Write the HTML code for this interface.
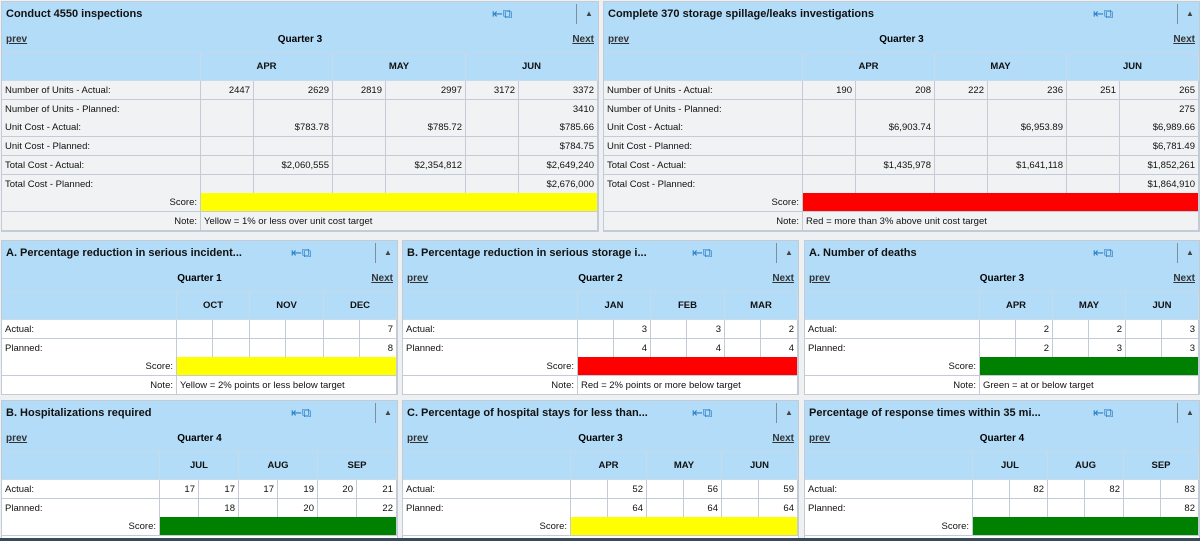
<!DOCTYPE html>
<html><head><meta charset="utf-8">
<style>
html,body{margin:0;padding:0;width:1200px;height:541px;overflow:hidden;background:#eef0f2;font-family:"Liberation Sans",sans-serif;}
.panel{position:absolute;background:#fff;border:1px solid #c3ccd6;box-sizing:border-box;overflow:hidden;}
.bar{position:absolute;left:0;right:0;top:0;height:24px;background:#b3dcf9;border-bottom:1px solid #9fc6e2;}
.title{position:absolute;left:4px;top:6px;font-size:11px;font-weight:bold;color:#111;white-space:nowrap;}
.icons{position:absolute;top:4px;font-size:13px;color:#2a7cc7;}
.sep{position:absolute;top:2px;width:1px;height:20px;background:#7d8e9c;}
.caret{position:absolute;top:7px;font-size:8px;color:#444;}
.nav{position:absolute;left:0;right:0;top:24px;height:26px;background:#b3dcf9;border-bottom:1px solid #c7d8e6;font-size:10px;font-weight:bold;}
.nav a{position:absolute;top:8px;color:#333;text-decoration:underline;}
.q{position:absolute;top:8px;left:0;right:0;text-align:center;}
.cell{position:absolute;box-sizing:border-box;border-right:1px solid #c3ccd6;border-bottom:1px solid #c3ccd6;font-size:9.5px;color:#111;padding:0 3px;white-space:nowrap;overflow:hidden;}
.mh{background:#b3dcf9;font-weight:bold;text-align:center;border-color:#c7dbea;}
.bottomline{position:absolute;left:0;top:538px;width:1200px;height:3px;background:#3a4a5a;}
</style></head>
<body>
<div id="root"></div>
<div class="bottomline"></div>
<script>
const panelTitles=["Conduct 4550 inspections","Complete 370 storage spillage/leaks investigations","A. Percentage reduction in serious incident...","B. Percentage reduction in serious storage i...","A. Number of deaths","B. Hospitalizations required","C. Percentage of hospital stays for less than...","Percentage of response times within 35 mi..."];
const quarters=["Quarter 3","Quarter 3","Quarter 1","Quarter 2","Quarter 3","Quarter 4","Quarter 3","Quarter 4"];
const hasPrev=[true,true,false,true,true,true,true,true];
const hasNext=[true,true,true,true,true,false,true,false];
const monthSets=[["APR","MAY","JUN"],["APR","MAY","JUN"],["OCT","NOV","DEC"],["JAN","FEB","MAR"],["APR","MAY","JUN"],["JUL","AUG","SEP"],["APR","MAY","JUN"],["JUL","AUG","SEP"]];
const topLabels=["Number of Units - Actual:","Number of Units - Planned:","Unit Cost - Actual:","Unit Cost - Planned:","Total Cost - Actual:","Total Cost - Planned:"];
const smallLabels=["Actual:","Planned:"];
const values0=[["2447","2629","2819","2997","3172","3372"],["","","","","","3410"],["","$783.78","","$785.72","","$785.66"],["","","","","","$784.75"],["","$2,060,555","","$2,354,812","","$2,649,240"],["","","","","","$2,676,000"]];
const values1=[["190","208","222","236","251","265"],["","","","","","275"],["","$6,903.74","","$6,953.89","","$6,989.66"],["","","","","","$6,781.49"],["","$1,435,978","","$1,641,118","","$1,852,261"],["","","","","","$1,864,910"]];
const values2=[["","","","","","7"],["","","","","","8"]];
const values3=[["","3","","3","","2"],["","4","","4","","4"]];
const values4=[["","2","","2","","3"],["","2","","3","","3"]];
const values5=[["17","17","17","19","20","21"],["","18","","20","","22"]];
const values6=[["","52","","56","","59"],["","64","","64","","64"]];
const values7=[["","82","","82","","83"],["","","","","","82"]];
const scores=["#ffff00","#ff0000","#ffff00","#ff0000","#008000","#008000","#ffff00","#008000"];
const notes=["Yellow = 1% or less over unit cost target","Red = more than 3% above unit cost target","Yellow = 2% points or less below target","Red = 2% points or more below target","Green = at or below target","","",""];
const allValues=[values0,values1,values2,values3,values4,values5,values6,values7];

const geo=[[1,1,598,231,199,0.4,"#f0f2f4"],[603,1,597,231,199,0.4,"#f0f2f4"],
[1,240,397,155,175,0.49,"#fff"],[402,240,397,155,175,0.49,"#fff"],[804,240,396,155,175,0.49,"#fff"],
[1,400,397,140,158,0.49,"#fff"],[402,400,397,140,168,0.49,"#fff"],[804,400,396,140,168,0.49,"#fff"]];

const root=document.getElementById('root');
function cell(p,x,y,w,h,txt,cls,align,bg){
  const c=document.createElement('div');
  c.className='cell '+(cls||'');
  c.style.left=x+'px';c.style.top=y+'px';c.style.width=w+'px';c.style.height=h+'px';
  c.style.lineHeight=h+'px';
  if(align)c.style.textAlign=align;
  if(bg)c.style.background=bg;
  c.textContent=txt;
  p.appendChild(c);
  return c;
}
for(let i=0;i<8;i++){
  const [x,y,w,h,L,r,rowBg]=geo[i];
  const p=document.createElement('div');
  p.className='panel';
  p.style.left=x+'px';p.style.top=y+'px';p.style.width=w+'px';p.style.height=h+'px';
  
  
  root.appendChild(p);
  const bar=document.createElement('div');bar.className='bar';
  
  
  bar.innerHTML='<span class="title">'+panelTitles[i]+'</span>';
  const ic=document.createElement('span');ic.className='icons';ic.style.left=(w-108)+'px';ic.textContent='⇤⧉';
  
  
  bar.appendChild(ic);
  const sp=document.createElement('span');sp.className='sep';sp.style.left=(w-24)+'px';bar.appendChild(sp);
  const ca=document.createElement('span');ca.className='caret';ca.style.left=(w-15)+'px';ca.textContent='▲';
  
  
  bar.appendChild(ca);
  p.appendChild(bar);
  const nav=document.createElement('div');nav.className='nav';
  
  
  const q=document.createElement('span');q.className='q';q.textContent=quarters[i];nav.appendChild(q);
  if(hasPrev[i]){const a=document.createElement('a');a.textContent='prev';a.style.left='4px';
    
    
    nav.appendChild(a);}
  if(hasNext[i]){const a=document.createElement('a');a.textContent='Next';a.style.right='4px';
    
    
    nav.appendChild(a);}
  p.appendChild(nav);
  const M=(w-2-L)/3, s=Math.round(M*r);
  const colX=[];const colW=[];
  for(let m=0;m<3;m++){const mx=L+m*M;colX.push(Math.round(mx),Math.round(mx)+s);colW.push(s,Math.round(mx+M)-Math.round(mx)-s);}
  let yy=51;
  cell(p,0,yy,L,28,'','mh');
  for(let m=0;m<3;m++){
    const c=cell(p,Math.round(L+m*M),yy,Math.round(L+(m+1)*M)-Math.round(L+m*M),28,monthSets[i][m],'mh','center');
    
    
  }
  yy+=28;
  const labels=i<2?topLabels:smallLabels;
  const vals=allValues[i];
  for(let rI=0;rI<labels.length;rI++){
    const lc=cell(p,0,yy,L,19,labels[rI],'','left',rowBg);
    
    
    for(let k=0;k<6;k++){
      const vc=cell(p,colX[k],yy,colW[k],19,vals[rI][k],'','right',rowBg);
      
      
    }
    yy+=18.7;
  }
  yy=Math.round(yy);
  cell(p,0,yy,L,19,'Score:','','right',rowBg);
  const sc=cell(p,L,yy,w-2-L,19,'','','left',scores[i]);
  
  
  yy+=19;
  if(i<5){
    cell(p,0,yy,L,19,'Note:','','right',rowBg);
    const nc=cell(p,L,yy,w-2-L,19,notes[i],'','left',rowBg);
    
    
  }
}
</script>
</body></html>
